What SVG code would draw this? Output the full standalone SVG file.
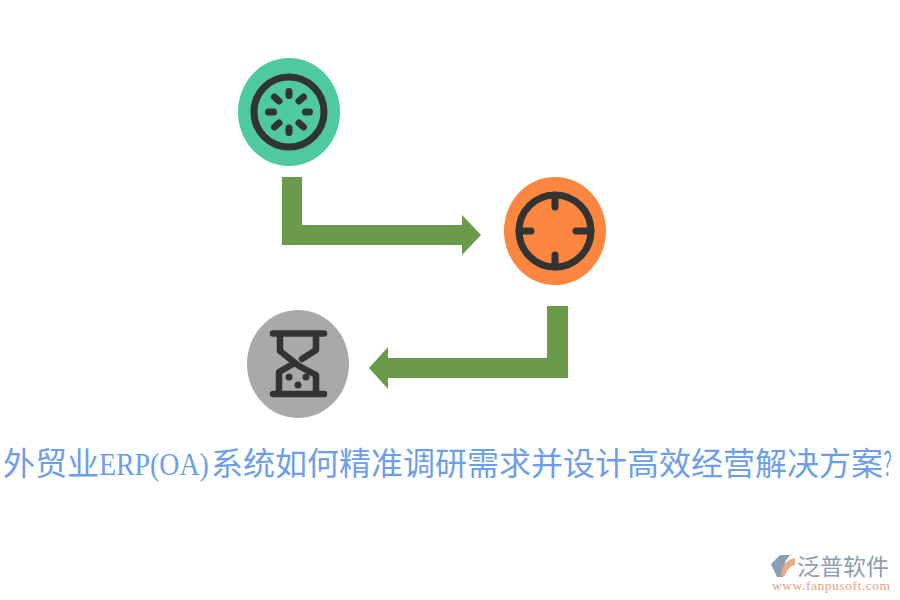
<svg xmlns="http://www.w3.org/2000/svg" width="900" height="600" viewBox="0 0 900 600">
<style>
.ic{fill:none;stroke:#333333;stroke-linecap:round;stroke-linejoin:round}
.dot{fill:#333333}
.conn{fill:#6b9a4a}
.title{font-family:"Noto Sans CJK SC",sans-serif;font-size:32px;fill:#6d9eeb}
.lat{font-family:"Liberation Serif",serif;font-size:32px;fill:#6d9eeb}
</style>
<rect width="900" height="600" fill="#ffffff"/>
<g id="connectors">
<path class="conn" d="M282 177H302V225H462V215L481 235L462 255V245H282Z"/>
<path class="conn" d="M568 306H547V358H388V347L369 368L388 389V378H568Z"/>
</g>
<g id="node-spinner">
<ellipse cx="289" cy="112" rx="51" ry="54" fill="#4ec9a0"/>
<circle class="ic" cx="289" cy="112" r="35" stroke-width="7"/>
<path class="ic" stroke-width="7" d="M289 91.500V95.500M289 128V132.500M268.500 112H273.500M305.500 112H309.500M274.500 97L279 101M303.500 97L299 101M274.500 127L279 123M303.500 127L299 123"/>
</g>
<g id="node-target">
<ellipse cx="555" cy="231" rx="51" ry="54" fill="#fa8640"/>
<circle class="ic" cx="555" cy="231" r="36" stroke-width="7"/>
<path class="ic" stroke-width="7" d="M555 195V207M555 255V267M519 231H531M576 231H591"/>
</g>
<g id="node-hourglass">
<ellipse cx="298" cy="364" rx="51" ry="54" fill="#a9a9a9"/>
<path class="ic" stroke-width="6.500" d="M273 333.500H324M273 394H324M280 334V351L299 366L316 375V394M316 334V350L302 359M279 394V372L293 364"/>
<circle class="dot" cx="289" cy="377" r="3.500"/>
<circle class="dot" cx="306" cy="377" r="3.500"/>
<circle class="dot" cx="298" cy="385" r="3.500"/>
</g>
<g id="title">
<text class="title" y="475" x="3 35 67">外贸业</text>
<text class="lat" transform="translate(99 475) scale(.87 1)">ERP(OA)</text>
<text class="title" y="475" x="211 243 275 307 339 371 403 435 467 499 531 563 595 627 659 691 723 755 787 819 851">系统如何精准调研需求并设计高效经营解决方案</text>
<text class="title" transform="translate(883.500 475) scale(.5 1)">？</text>
</g>
<g id="logo">
<path d="M771 564L780 555H790L785 562L783 577H777Z" fill="#8d9db5"/>
<path d="M781 576Q782 560 795 558V565Q788 566 785 576Z" fill="#e8ab8a"/>
<text x="797" y="575" font-family="Noto Sans CJK SC,sans-serif" font-size="23" fill="#8d9db5">泛普软件</text>
<text x="772" y="590" font-family="Liberation Serif,serif" font-size="13.500" fill="#e8a184" textLength="118">www.fanpusoft.com</text>
</g>
</svg>
